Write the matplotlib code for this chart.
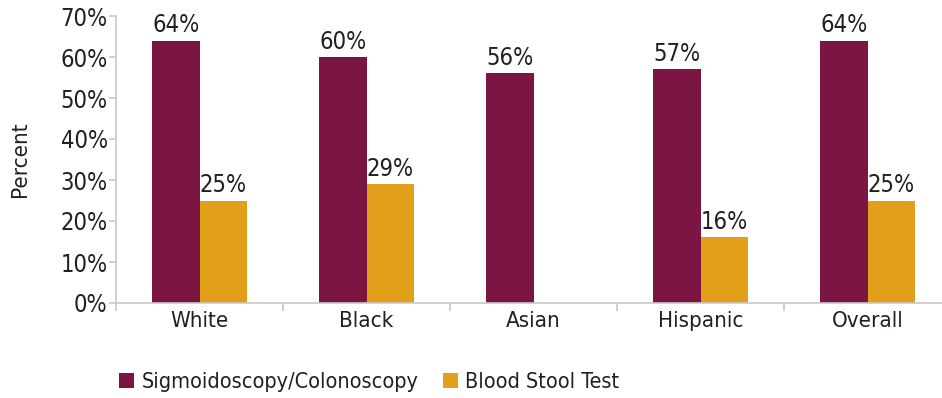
import matplotlib
matplotlib.use("Agg")
import matplotlib.pyplot as plt
import numpy as np

plt.rcParams['font.family'] = ['DejaVu Sans']
plt.rcParams['font.stretch'] = 'condensed'

groups = ['White', 'Black', 'Asian', 'Hispanic', 'Overall']
scope = [64, 60, 56, 57, 64]
stool = [25, 29, 0, 16, 25]
series_names = ['Sigmoidoscopy/Colonoscopy', 'Blood Stool Test']
colors = ['#7b1642', '#e29f1a']
text_color = '#231f20'
axis_color = '#c8c8c8'

W, H = 942, 398
fig = plt.figure(figsize=(W / 100, H / 100), dpi=100)
ax = fig.add_axes([116 / W, 1 - 303 / H, 835 / W, 287 / H])

x = np.arange(len(groups))
bw = 0.285
b1 = ax.bar(x - bw / 2, scope, bw, color=colors[0], label=series_names[0])
b2 = ax.bar(x + bw / 2, stool, bw, color=colors[1], label=series_names[1])

for bars, vals in ((b1, scope), (b2, stool)):
    for rect, v in zip(bars, vals):
        if v == 0:
            continue
        ax.text(rect.get_x() + rect.get_width() / 2, v + 0.8, f'{v}%',
                ha='center', va='bottom', fontsize=17, color=text_color)

ax.set_xlim(-0.5, len(groups) - 0.5)
ax.set_ylim(0, 70)
ax.set_yticks(range(0, 71, 10))
ax.set_yticklabels([f'{t}%' for t in range(0, 71, 10)])
ax.set_xticks(x)
ax.set_xticklabels(groups)
ax.set_xticks(np.arange(-0.5, len(groups), 1), minor=True)
ax.tick_params(axis='x', which='major', length=0, pad=6, labelsize=16, labelcolor=text_color)
ax.tick_params(axis='x', which='minor', length=6, color=axis_color, width=1.2)
ax.tick_params(axis='y', length=5, color=axis_color, width=1.2, pad=1, labelsize=17, labelcolor=text_color)
ax.set_ylabel('Percent', fontsize=16, color=text_color, labelpad=22)

for side in ('top', 'right'):
    ax.spines[side].set_visible(False)
for side in ('left', 'bottom'):
    ax.spines[side].set_color(axis_color)
    ax.spines[side].set_linewidth(1.2)

fig.legend(handles=[b1, b2], labels=series_names, loc='center left',
           bbox_to_anchor=(100 / W, 1 - 382 / H), ncol=2, frameon=False,
           fontsize=15.5, handlelength=0.7, handleheight=0.7,
           handletextpad=0.35, columnspacing=1.1, labelcolor=text_color)

fig.savefig('out.png', dpi=100)
